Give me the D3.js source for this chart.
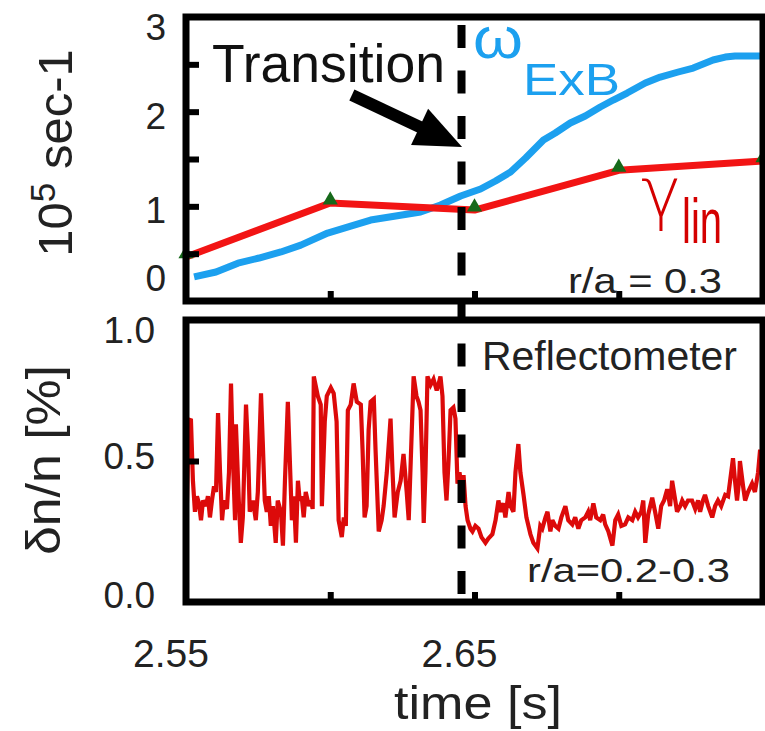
<!DOCTYPE html>
<html><head><meta charset="utf-8">
<script src="https://cdn.jsdelivr.net/npm/d3@7"></script>
<style>html,body{margin:0;padding:0;background:#fff;} svg{display:block;font-family:"Liberation Sans",Arial,sans-serif;}</style>
</head><body><svg id="c" width="765" height="731"></svg>
<script>
// ---------- data ----------
const timeDomain = [2.55, 2.75];
const xTickValues = [2.60, 2.65, 2.70];
const xTickLabels = [2.55, 2.65];
const topDomain = [0, 3];
const topTickValues = [0.5, 1, 1.5, 2, 2.5];
const topTickLabels = [0, 1, 2, 3];
const botDomain = [0, 1];
const botTickValues = [0.5];
const botTickLabels = [0.0, 0.5, 1.0];
const transitionTime = 2.6455;

// omega ExB (blue)
const omegaTime = [2.5528,2.5604,2.5680,2.5753,2.5829,2.5898,2.5991,2.6071,2.6140,2.6227,2.6313,2.6382,2.6452,2.6521,2.6573,2.6625,2.6677,2.6739,2.6780,2.6832,2.6884,2.6936,2.6981,2.7029,2.7092,2.7144,2.7206,2.7258,2.7327,2.7369,2.7403,2.7500];
const omegaValue = [0.254,0.306,0.40,0.454,0.518,0.59,0.718,0.79,0.855,0.898,0.94,1.014,1.109,1.183,1.268,1.363,1.51,1.70,1.775,1.88,1.954,2.049,2.123,2.197,2.303,2.366,2.419,2.461,2.546,2.577,2.588,2.588];

// gamma lin (red, with triangles)
const gammaTime = [2.55, 2.60, 2.65, 2.70, 2.75];
const gammaValue = [0.465, 1.035, 0.96, 1.38, 1.48];

// reflectometer dn/n
const reflTime = [2.5503,2.5510,2.5517,2.5524,2.5531,2.5538,2.5545,2.5552,2.5559,2.5569,2.5576,2.5583,2.5590,2.5597,2.5604,2.5611,2.5618,2.5625,2.5631,2.5642,2.5649,2.5656,2.5663,2.5670,2.5673,2.5683,2.5690,2.5697,2.5708,2.5715,2.5721,2.5732,2.5742,2.5749,2.5760,2.5766,2.5773,2.5780,2.5787,2.5794,2.5801,2.5811,2.5818,2.5829,2.5836,2.5843,2.5853,2.5860,2.5867,2.5874,2.5881,2.5888,2.5894,2.5901,2.5908,2.5915,2.5926,2.5933,2.5939,2.5943,2.5957,2.5967,2.5971,2.5981,2.5988,2.6002,2.6012,2.6022,2.6029,2.6040,2.6047,2.6054,2.6061,2.6071,2.6081,2.6092,2.6106,2.6112,2.6119,2.6126,2.6133,2.6140,2.6151,2.6157,2.6168,2.6178,2.6185,2.6196,2.6209,2.6216,2.6223,2.6234,2.6244,2.6254,2.6265,2.6272,2.6279,2.6289,2.6299,2.6306,2.6313,2.6320,2.6324,2.6330,2.6337,2.6348,2.6358,2.6369,2.6375,2.6382,2.6389,2.6396,2.6403,2.6410,2.6417,2.6427,2.6434,2.6441,2.6448,2.6455,2.6462,2.6469,2.6476,2.6486,2.6493,2.6503,2.6514,2.6524,2.6538,2.6548,2.6562,2.6573,2.6583,2.6590,2.6600,2.6607,2.6618,2.6625,2.6635,2.6642,2.6652,2.6659,2.6670,2.6680,2.6694,2.6704,2.6718,2.6728,2.6735,2.6746,2.6753,2.6763,2.6770,2.6780,2.6791,2.6801,2.6815,2.6825,2.6839,2.6849,2.6860,2.6870,2.6884,2.6894,2.6901,2.6912,2.6922,2.6936,2.6946,2.6953,2.6964,2.6978,2.6988,2.6998,2.7009,2.7022,2.7033,2.7047,2.7057,2.7067,2.7078,2.7085,2.7092,2.7102,2.7116,2.7126,2.7137,2.7147,2.7157,2.7168,2.7178,2.7185,2.7196,2.7202,2.7213,2.7220,2.7230,2.7240,2.7254,2.7265,2.7275,2.7282,2.7292,2.7299,2.7310,2.7324,2.7334,2.7344,2.7355,2.7369,2.7379,2.7386,2.7396,2.7403,2.7410,2.7417,2.7420,2.7431,2.7438,2.7448,2.7462,2.7472,2.7483,2.7490,2.7497,2.7500];
const reflValue = [0.34,0.64,0.65,0.43,0.32,0.375,0.35,0.29,0.36,0.34,0.375,0.30,0.36,0.41,0.39,0.67,0.46,0.29,0.36,0.33,0.46,0.775,0.50,0.29,0.63,0.36,0.21,0.30,0.70,0.54,0.32,0.36,0.29,0.39,0.74,0.57,0.36,0.32,0.375,0.27,0.34,0.21,0.36,0.32,0.20,0.43,0.71,0.50,0.29,0.375,0.21,0.43,0.36,0.375,0.30,0.39,0.34,0.36,0.33,0.80,0.73,0.70,0.34,0.64,0.73,0.76,0.74,0.64,0.29,0.23,0.30,0.27,0.68,0.70,0.775,0.71,0.70,0.54,0.30,0.34,0.61,0.71,0.72,0.54,0.25,0.29,0.34,0.46,0.65,0.46,0.30,0.39,0.43,0.525,0.39,0.29,0.50,0.80,0.73,0.71,0.68,0.46,0.28,0.46,0.80,0.77,0.79,0.75,0.77,0.80,0.73,0.46,0.36,0.50,0.68,0.69,0.65,0.42,0.46,0.41,0.45,0.34,0.29,0.26,0.25,0.27,0.26,0.23,0.21,0.225,0.24,0.29,0.36,0.32,0.35,0.30,0.39,0.34,0.32,0.46,0.56,0.46,0.38,0.30,0.24,0.21,0.19,0.27,0.26,0.30,0.32,0.25,0.29,0.27,0.26,0.30,0.34,0.29,0.275,0.30,0.26,0.29,0.30,0.32,0.29,0.35,0.30,0.29,0.31,0.275,0.25,0.20,0.29,0.31,0.27,0.275,0.30,0.29,0.32,0.30,0.32,0.36,0.21,0.31,0.37,0.32,0.26,0.34,0.36,0.40,0.34,0.43,0.36,0.32,0.34,0.36,0.34,0.36,0.36,0.33,0.36,0.32,0.36,0.38,0.34,0.30,0.34,0.36,0.34,0.38,0.375,0.43,0.51,0.43,0.36,0.43,0.50,0.41,0.36,0.39,0.42,0.39,0.46,0.54,0.45,0.46];

// ---------- drawing ----------
const svg = d3.select("#c");
const BLUE = "#1ca0ef", RED = "#f21414", DARKRED = "#d40000", SIGRED = "#dc0a0a", GREEN = "#16691a";

const x = d3.scaleLinear().domain(timeDomain).range([186, 763]);
const yTop = d3.scaleLinear().domain(topDomain).range([301, 17]);
const yBot = d3.scaleLinear().domain(botDomain).range([602, 320]);

const omegaData = omegaTime.map((t, i) => [t, omegaValue[i]]);
const gammaData = gammaTime.map((t, i) => [t, gammaValue[i]]);
const reflData = reflTime.map((t, i) => [t, reflValue[i]]);

svg.append("path").datum(omegaData)
  .attr("d", d3.line().x(d => x(d[0])).y(d => yTop(d[1])))
  .attr("fill", "none").attr("stroke", BLUE).attr("stroke-width", 7).attr("stroke-linejoin", "round");

svg.append("path").datum(gammaData)
  .attr("d", d3.line().x(d => x(d[0])).y(d => yTop(d[1])))
  .attr("fill", "none").attr("stroke", RED).attr("stroke-width", 7).attr("stroke-linejoin", "round");

svg.append("g").selectAll("path").data(gammaData).join("path")
  .attr("d", d3.symbol(d3.symbolTriangle, 100))
  .attr("transform", d => `translate(${x(d[0])},${yTop(d[1]) - 3})`)
  .attr("fill", GREEN);

svg.append("path").datum(reflData)
  .attr("d", d3.line().x(d => x(d[0])).y(d => yBot(d[1])))
  .attr("fill", "none").attr("stroke", SIGRED).attr("stroke-width", 4.2).attr("stroke-linejoin", "miter").attr("stroke-miterlimit", 3);

// frames
function frame(yScale) {
  const [x0, x1] = x.range();
  const [yb, yt] = yScale.range();
  svg.append("rect").attr("x", x0).attr("y", yt).attr("width", x1 - x0).attr("height", yb - yt)
    .attr("fill", "none").attr("stroke", "#000").attr("stroke-width", 7);
}
frame(yTop); frame(yBot);

// ticks
function styleAxis(g) {
  g.select(".domain").remove();
  g.selectAll(".tick line").attr("stroke", "#000").attr("stroke-width", 6);
  g.selectAll(".tick text").remove();
}
svg.append("g").attr("transform", `translate(${x.range()[0]},0)`)
  .call(d3.axisLeft(yTop).tickValues(topTickValues).tickSize(-13).tickFormat("")).call(styleAxis);
svg.append("g").attr("transform", `translate(${x.range()[0]},0)`)
  .call(d3.axisLeft(yBot).tickValues(botTickValues).tickSize(-13).tickFormat("")).call(styleAxis);
svg.append("g").attr("transform", `translate(0,${yTop(0)})`)
  .call(d3.axisBottom(x).tickValues(xTickValues).tickSize(-10).tickFormat("")).call(styleAxis);
svg.append("g").attr("transform", `translate(0,${yBot(0)})`)
  .call(d3.axisBottom(x).tickValues(xTickValues).tickSize(-10).tickFormat("")).call(styleAxis);

// tick labels
const clamp = (v, a, b) => Math.max(a, Math.min(b, v));
svg.append("g").selectAll("text").data(topTickLabels).join("text")
  .attr("x", 166).attr("y", d => clamp(yTop(d) + 4, 27, 278) + 13)
  .attr("text-anchor", "end").attr("font-size", 37).attr("fill", "#222").text(d => d3.format("d")(d));
svg.append("g").selectAll("text").data(botTickLabels).join("text")
  .attr("x", 155).attr("y", d => clamp(yBot(d) - 5, 330, 595) + 13)
  .attr("text-anchor", "end").attr("font-size", 37).attr("fill", "#222").text(d => d3.format(".1f")(d));
svg.append("g").selectAll("text").data(xTickLabels).join("text")
  .attr("x", d => x(d) - 15).attr("y", 667)
  .attr("text-anchor", "middle").attr("font-size", 39).attr("fill", "#222").text(d => d3.format(".2f")(d));

// axis titles
svg.append("text").attr("x", 478).attr("y", 719).attr("text-anchor", "middle")
  .attr("font-size", 46).attr("fill", "#222").attr("textLength", 168).attr("lengthAdjust", "spacingAndGlyphs").text("time [s]");

const ylT = svg.append("text").attr("transform", "translate(72,153) rotate(-90)")
  .attr("text-anchor", "middle").attr("font-size", 49).attr("fill", "#222");
ylT.append("tspan").text("10");
ylT.append("tspan").attr("font-size", 35).attr("dy", -17).text("5");
ylT.append("tspan").attr("dy", 17).text(" sec-1");

svg.append("text").attr("transform", "translate(60,460) rotate(-90)")
  .attr("text-anchor", "middle").attr("font-size", 48).attr("fill", "#222")
  .attr("textLength", 190).attr("lengthAdjust", "spacingAndGlyphs").text("δn/n [%]");

// transition dashed line
svg.append("line")
  .attr("x1", x(transitionTime)).attr("x2", x(transitionTime))
  .attr("y1", yTop(topDomain[1]) + 8).attr("y2", yBot(0) - 6)
  .attr("stroke", "#000").attr("stroke-width", 8).attr("stroke-dasharray", "23,22.5");

// annotations
svg.append("text").attr("x", 212).attr("y", 82).attr("font-size", 53).attr("fill", "#111")
  .attr("textLength", 233).attr("lengthAdjust", "spacingAndGlyphs").text("Transition");

(function () {
  const sx = x(2.6075), sy = yTop(2.176), tx = x(2.6457), ty = yTop(1.627);
  const dx = tx - sx, dy = ty - sy, len = Math.hypot(dx, dy);
  const ux = dx / len, uy = dy / len, nx = -uy, ny = ux;
  const L = 47, W = 20;
  const bx = tx - ux * L, by = ty - uy * L;
  svg.append("line").attr("x1", sx).attr("y1", sy).attr("x2", bx + ux * 2).attr("y2", by + uy * 2)
    .attr("stroke", "#000").attr("stroke-width", 12);
  svg.append("path").attr("d", d3.line()([[tx, ty], [bx + nx * W, by + ny * W], [bx - nx * W, by - ny * W]]) + "Z")
    .attr("fill", "#000");
})();

svg.append("text").attr("x", 473).attr("y", 58).attr("font-size", 58).attr("fill", BLUE)
  .attr("textLength", 50).attr("lengthAdjust", "spacingAndGlyphs").text("ω");
svg.append("text").attr("x", 523).attr("y", 95).attr("font-size", 44).attr("fill", BLUE)
  .attr("textLength", 97).attr("lengthAdjust", "spacingAndGlyphs").text("ExB");

svg.append("text").attr("x", 641).attr("y", 217).attr("font-size", 70).attr("fill", DARKRED)
  .attr("font-family", '"DejaVu Sans", sans-serif').attr("font-weight", 300)
  .attr("textLength", 40).attr("lengthAdjust", "spacingAndGlyphs").text("γ");
svg.append("text").attr("x", 682).attr("y", 243).attr("font-size", 63).attr("fill", DARKRED)
  .attr("textLength", 40).attr("lengthAdjust", "spacingAndGlyphs").text("lin");

svg.append("text").attr("x", 568).attr("y", 293).attr("font-size", 35).attr("fill", "#222")
  .attr("textLength", 154).attr("lengthAdjust", "spacingAndGlyphs").text("r/a = 0.3");
svg.append("text").attr("x", 482).attr("y", 370).attr("font-size", 41).attr("fill", "#222")
  .attr("textLength", 255).attr("lengthAdjust", "spacingAndGlyphs").text("Reflectometer");
svg.append("text").attr("x", 527).attr("y", 582).attr("font-size", 34).attr("fill", "#222")
  .attr("textLength", 203).attr("lengthAdjust", "spacingAndGlyphs").text("r/a=0.2-0.3");
</script></body></html>
